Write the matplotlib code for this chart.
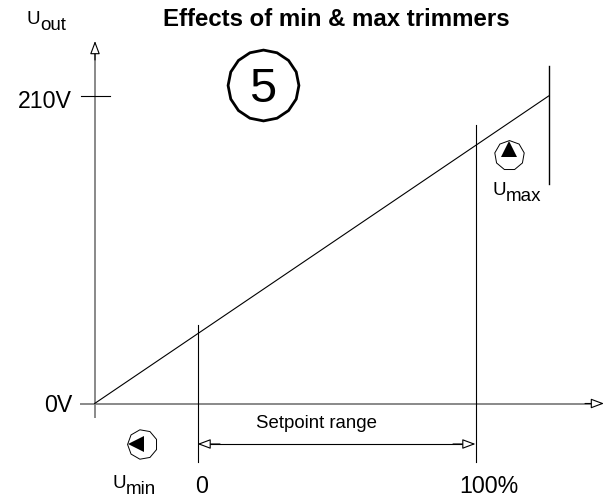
import matplotlib
matplotlib.use("Agg")
import matplotlib.pyplot as plt

plt.rcParams['font.family'] = ['Liberation Sans', 'DejaVu Sans']

W, H = 607, 501
# data <-> pixel anchors
X0_PX, X100_PX = 197.5, 475.5
Y0_PX, Y210_PX = 403.5, 96.0
SX = (X100_PX - X0_PX) / 100
SY = (Y0_PX - Y210_PX) / 210

setpoint_line = [-37.0, 126.3]
voltage_line = [0, 210]
setpoint_marks = [0, 100]
voltage_ticks = [0, 210]
voltage_labels = ["0V", "210V"]
setpoint_labels = ["0", "100%"]
title = "Effects of min & max trimmers"
range_label = "Setpoint range"


def xd(px):
    return (px - X0_PX) / SX


def yd(py):
    return (Y0_PX - py) / SY


fig = plt.figure(figsize=(W / 100, H / 100), dpi=100, facecolor='white')
ax = fig.add_axes([0, 0, 1, 1])
ax.set_xlim(xd(0), xd(W))
ax.set_ylim(yd(H), yd(0))
ax.axis('off')

THIN = 0.8
GRAY = '#808080'


def head(x_from, y_from, x_to, y_to):
    ax.annotate('', xy=(xd(x_to), yd(y_to)), xytext=(xd(x_from), yd(y_from)),
                arrowprops=dict(arrowstyle='-|>,head_length=8,head_width=3.0', mutation_scale=1,
                                fc='white', ec='black', lw=0.8, shrinkA=0, shrinkB=0), zorder=5)


# axes
ax.plot([xd(80), xd(594)], [voltage_ticks[0]] * 2, color=GRAY, lw=1.3, solid_capstyle='butt')
ax.plot([xd(95), xd(95)], [yd(418), yd(52)], color=GRAY, lw=1.3, solid_capstyle='butt')
head(585, 403.5, 604, 403.5)
head(95, 60, 95, 41)

# 210V tick
ax.plot([xd(81), xd(110)], [voltage_ticks[1]] * 2, color='black', lw=THIN)

# response line
ax.plot(setpoint_line, voltage_line, color='black', lw=THIN)

# verticals
ax.plot([setpoint_marks[0]] * 2, [yd(325), yd(462)], color='black', lw=THIN)
ax.plot([setpoint_marks[1]] * 2, [yd(125), yd(462)], color='black', lw=THIN)
ax.plot([setpoint_line[1]] * 2, [yd(66), yd(184)], color='black', lw=1.0)

# setpoint range arrow
y_r = yd(444)
ax.plot([xd(208), xd(465)], [y_r, y_r], color='black', lw=THIN)
head(220, 444, 197.5, 444)
head(453, 444, 475.5, 444)

# symbols
ax.plot(xd(262.5), yd(85), marker=(16, 0, 0), ms=51, mfc='none', mec='black', mew=2.0)
ax.text(xd(262.5), yd(102.5), "5", fontsize=35, ha='center', va='baseline')
ax.plot(xd(508.5), yd(155), marker=(9, 0, 0), ms=21.5, mfc='none', mec='black', mew=0.7)
ax.plot(xd(509), yd(149), marker='^', ms=12, mfc='black', mec='black', mew=0)
ax.plot(xd(142), yd(444), marker=(9, 0, 90), ms=21.5, mfc='none', mec='black', mew=0.7)
ax.plot(xd(136), yd(444), marker='<', ms=12, mfc='black', mec='black', mew=0)

# text
ax.text(xd(72), yd(108), voltage_labels[1], fontsize=16.7, ha='right', va='baseline')
ax.text(xd(72), yd(411.7), voltage_labels[0], fontsize=16.7, ha='right', va='baseline')
ax.text(xd(202), yd(492.7), setpoint_labels[0], fontsize=16.7, ha='center', va='baseline')
ax.text(xd(488.5), yd(492.7), setpoint_labels[1], fontsize=16.7, ha='center', va='baseline')
ax.text(xd(336), yd(26), title, fontsize=17.3, fontweight='bold', ha='center', va='baseline')
ax.text(xd(316), yd(428), range_label, fontsize=13.4, ha='center', va='baseline')


def sub_label(px, py, main, sub):
    ax.text(xd(px), yd(py), main, fontsize=13.5, ha='left', va='baseline')
    ax.text(xd(px + 13), yd(py + 6), sub, fontsize=13.5, ha='left', va='baseline')


sub_label(27, 24, 'U', 'out')
sub_label(492.7, 195, 'U', 'max')
sub_label(112.5, 488, 'U', 'min')

fig.savefig('out.png', dpi=100, facecolor='white')
